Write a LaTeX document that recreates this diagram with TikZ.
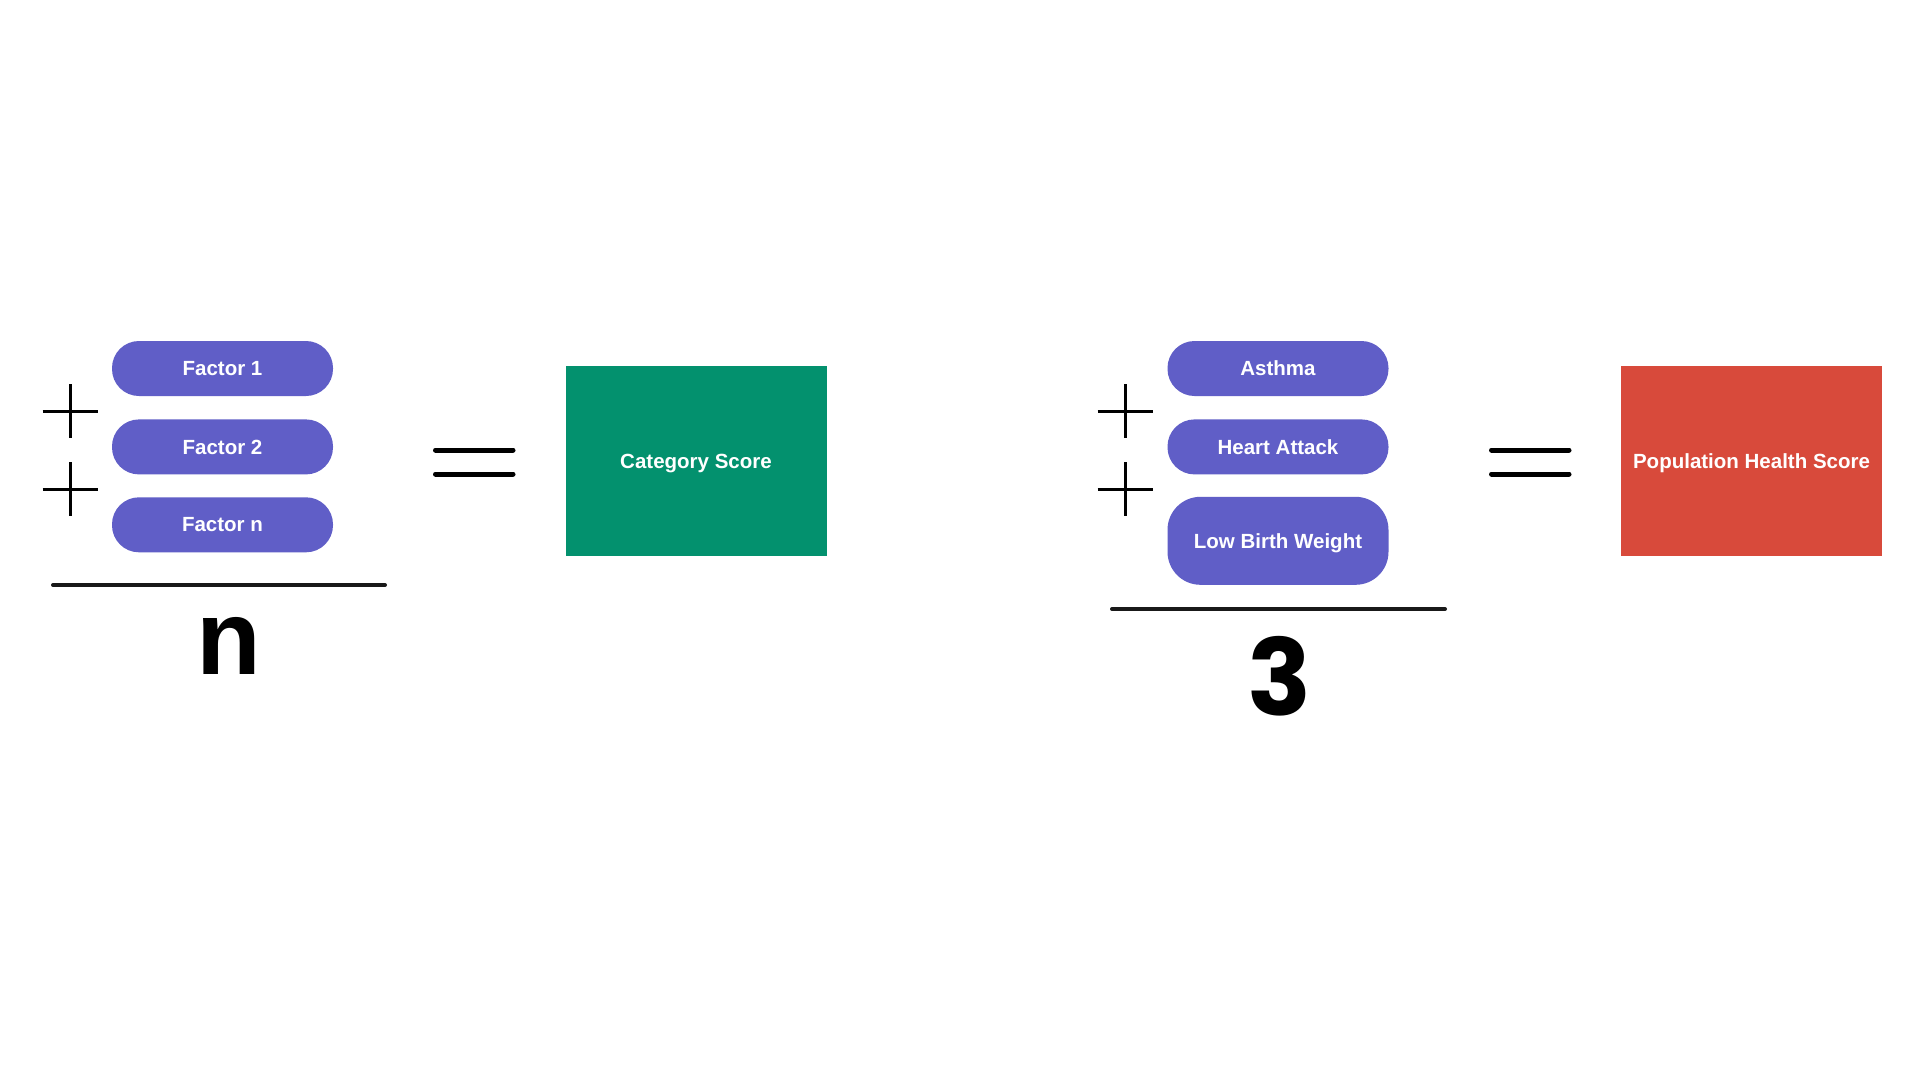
\documentclass[tikz,border=0pt]{standalone}
\usepackage{fontspec}
\setmainfont{Liberation Sans}
\newfontfamily\digitfont{Poppins}
\usepackage{tikz}
\usetikzlibrary{positioning}
\definecolor{pillblue}{RGB}{96,94,199}
\definecolor{catgreen}{RGB}{3,145,110}
\definecolor{popred}{RGB}{216,74,59}
\tikzset{
  pill/.style={fill=pillblue,rounded corners=27pt,minimum width=221pt,
    minimum height=55pt,inner sep=0pt,text=white,text depth=0pt,
    font=\bfseries\fontsize{20.5}{24}\selectfont},
  scorebox/.style={minimum width=261pt,minimum height=190pt,inner sep=0pt,
    text=white,text depth=0pt,font=\bfseries\fontsize{20.5}{24}\selectfont},
  sign/.style={line width=3pt},
  eqbar/.style={line width=5pt,line cap=round},
  divline/.style={line width=4pt,line cap=round,black!90},
  bignum/.style={inner sep=0pt,font=\bfseries\fontsize{106}{110}\selectfont}
}

\begin{document}
\begin{tikzpicture}[x=1pt,y=-1pt]
  \useasboundingbox[fill=white] (0,0) rectangle (1920,1080);
  % left sum: factors over n
  \node[pill] (f1) at (222.5,368.5) {Factor 1};
  \node[pill,below=23pt of f1] (f2) {Factor 2};
  \node[pill,below=22.5pt of f2] (fn) {Factor n};
  \foreach \y in {411,489}{
    \draw[sign] (42.5,\y) -- ++(55,0) (70,\y-27) -- ++(0,54);
  }
  \draw[divline] (53,585) -- (385,585);
  \node[bignum,anchor=base] (ndiv) at (229,674) {n};
  % equals and category score
  \draw[eqbar] (435.5,450) -- (513,450) (435.5,474) -- (513,474);
  \node[scorebox,fill=catgreen] (cat) at (696,461) {Category Score};
  % right sum: three conditions over 3
  \node[pill] (asthma) at (1278,368.5) {Asthma};
  \node[pill,below=23pt of asthma] (heart) {Heart Attack};
  \node[pill,below=22pt of heart,minimum height=88pt,rounded corners=33pt] (lbw) {Low Birth Weight};
  \foreach \y in {411,489}{
    \draw[sign] (1097.5,\y) -- ++(55,0) (1125,\y-27) -- ++(0,54);
  }
  \draw[divline] (1112,609) -- (1445,609);
  \node[bignum,anchor=base] (three) at (1280,715) {\digitfont 3};
  % equals and population health score
  \draw[eqbar] (1491.5,450) -- (1569,450) (1491.5,474) -- (1569,474);
  \node[scorebox,fill=popred] (pop) at (1751.5,461) {Population Health Score};
\end{tikzpicture}
\end{document}
